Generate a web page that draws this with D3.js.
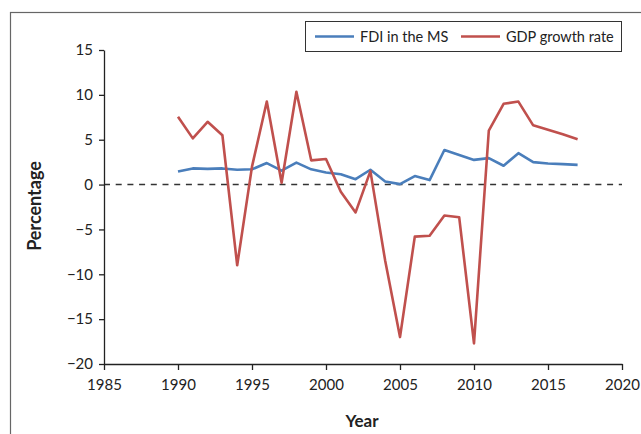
<!DOCTYPE html>
<html>
<head>
<meta charset="utf-8">
<script src="https://cdn.jsdelivr.net/npm/d3@7"></script>
<style>
  body { margin: 0; background: #fff; }
  svg text { font-family: Lato, "Open Sans", sans-serif; fill: #222; }
</style>
</head>
<body>
<svg id="chart" width="641" height="434"></svg>
<script>
// years on the x axis
var years = [1990, 1991, 1992, 1993, 1994, 1995, 1996, 1997, 1998, 1999,
             2000, 2001, 2002, 2003, 2004, 2005, 2006, 2007, 2008, 2009,
             2010, 2011, 2012, 2013, 2014, 2015, 2016, 2017];

// FDI in the MS (%)
var fdi = [1.45, 1.8, 1.75, 1.8, 1.65, 1.7, 2.4, 1.55, 2.45, 1.7,
           1.35, 1.15, 0.6, 1.65, 0.35, 0.05, 0.95, 0.5, 3.85, 3.3,
           2.75, 2.95, 2.1, 3.5, 2.5, 2.35, 2.28, 2.2];

// GDP growth rate (%)
var gdp = [7.55, 5.15, 7.0, 5.5, -9.0, 2.0, 9.25, 0.2, 10.35, 2.7,
           2.85, -0.8, -3.1, 1.5, -8.5, -17.0, -5.8, -5.7, -3.45, -3.65,
           -17.7, 6.0, 9.0, 9.25, 6.6, 6.1, 5.6, 5.05];

var seriesNames = ['FDI in the MS', 'GDP growth rate'];
var seriesColors = ['#4a7ebb', '#c0504d'];

var xTicks = [1985, 1990, 1995, 2000, 2005, 2010, 2015, 2020];
var yTicks = [15, 10, 5, 0, -5, -10, -15, -20];

var svg = d3.select('#chart');

// outer frame
svg.append('rect')
    .attr('x', 10.5)
    .attr('y', 12.5)
    .attr('width', 660)
    .attr('height', 460)
    .attr('fill', 'none')
    .attr('stroke', '#666')
    .attr('stroke-width', 1.2);

var x = d3.scaleLinear().domain([1985, 2020]).range([104, 622]);
var y = d3.scaleLinear().domain([-20, 15]).range([364, 50]);

// zero reference line
svg.append('line')
    .attr('x1', x(1985)).attr('x2', x(2020))
    .attr('y1', y(0)).attr('y2', y(0))
    .attr('stroke', '#333')
    .attr('stroke-width', 1.5)
    .attr('stroke-dasharray', '6,5.7');

// axes
var xAxis = svg.append('g')
    .attr('transform', 'translate(0,' + y(-20) + ')')
    .call(d3.axisBottom(x).tickValues(xTicks).tickFormat(d3.format('d')).tickSize(6).tickSizeOuter(0));

var yAxis = svg.append('g')
    .attr('transform', 'translate(' + x(1985) + ',0)')
    .call(d3.axisLeft(y).tickValues(yTicks).tickFormat(function(d) { return d < 0 ? '\u2212' + Math.abs(d) : d; }).tickSize(5).tickSizeOuter(0));

[xAxis, yAxis].forEach(function(a) {
    a.select('.domain').attr('stroke', '#222').attr('stroke-width', 1.3);
    a.selectAll('.tick line').attr('stroke', '#222').attr('stroke-width', 1.3);
    a.selectAll('.tick text').style('font-size', '15px').attr('fill', '#222');
});
xAxis.selectAll('.tick text').attr('dy', '1.1em');
yAxis.selectAll('.tick text').attr('x', -11);

// lines
var line = d3.line()
    .x(function(d) { return x(d[0]); })
    .y(function(d) { return y(d[1]); });

[fdi, gdp].forEach(function(vals, i) {
    svg.append('path')
        .datum(years.map(function(yr, j) { return [yr, vals[j]]; }))
        .attr('d', line)
        .attr('fill', 'none')
        .attr('stroke', seriesColors[i])
        .attr('stroke-width', 2.6)
        .attr('stroke-linejoin', 'round');
});

// axis titles
svg.append('text')
    .attr('x', 362)
    .attr('y', 427)
    .attr('text-anchor', 'middle')
    .style('font-size', '17px')
    .style('font-weight', 'bold')
    .text('Year');

svg.append('text')
    .attr('transform', 'translate(41,206) rotate(-90)')
    .attr('text-anchor', 'middle')
    .style('font-size', '18px')
    .style('font-weight', 'bold')
    .text('Percentage');

// legend
var legend = svg.append('g');
legend.append('rect')
    .attr('x', 305.5).attr('y', 21.5)
    .attr('width', 316).attr('height', 30)
    .attr('fill', '#fff')
    .attr('stroke', '#333')
    .attr('stroke-width', 1);

var legendX = [315, 461];
seriesNames.forEach(function(name, i) {
    legend.append('line')
        .attr('x1', legendX[i]).attr('x2', legendX[i] + 39)
        .attr('y1', 36.5).attr('y2', 36.5)
        .attr('stroke', seriesColors[i])
        .attr('stroke-width', 2.6);
    legend.append('text')
        .attr('x', legendX[i] + 45)
        .attr('y', 41.5)
        .style('font-size', '14.5px')
        .text(name);
});
</script>
</body>
</html>
